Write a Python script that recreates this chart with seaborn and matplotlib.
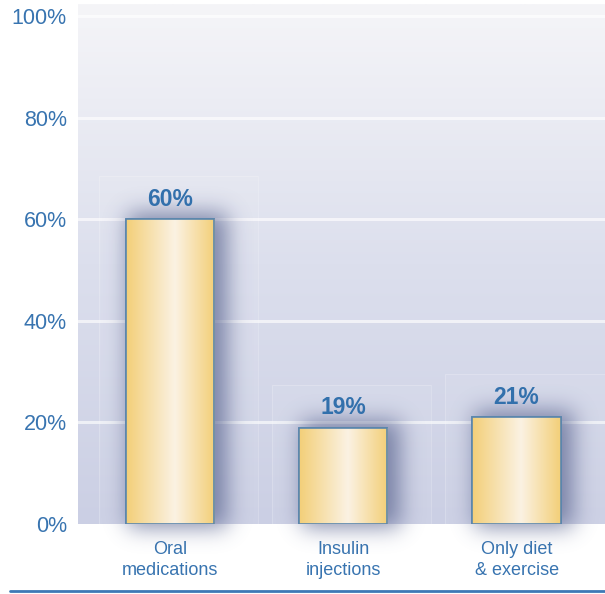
import numpy as np
import pandas as pd
import matplotlib
matplotlib.use("Agg")
import matplotlib.pyplot as plt
from matplotlib.colors import LinearSegmentedColormap, to_rgb
from matplotlib.patches import Rectangle
from matplotlib.lines import Line2D
import seaborn as sns

# Data
categories = ["Oral\nmedications", "Insulin\ninjections", "Only diet\n& exercise"]
shares = [60, 19, 21]
y_ticks = [0, 20, 40, 60, 80, 100]
y_tick_labels = ["0%", "20%", "40%", "60%", "80%", "100%"]

BLUE = "#3874b0"
EDGE = "#5a86ad"

sns.set_theme(style="white")
plt.rcParams["font.family"] = ["Liberation Sans", "DejaVu Sans"]

W, H, DPI = 605, 594, 100
fig = plt.figure(figsize=(W / DPI, H / DPI), dpi=DPI)
fig.patch.set_facecolor("white")
ax = fig.add_axes([78 / W, 70 / H, 527 / W, 520 / H])
ax.set_facecolor("none")

df = pd.DataFrame({"category": categories, "share": shares})
sns.barplot(data=df, x="category", y="share", ax=ax, width=0.51,
            color="#f4d27e", edgecolor=EDGE, linewidth=1.2, zorder=5)

ax.set_xlim(-0.53, 2.51)
ax.set_ylim(0, 102.4)
ax.set_xlabel("")
ax.set_ylabel("")
for s in ax.spines.values():
    s.set_visible(False)

# Plot-area background: vertical gradient from near-white to lavender
bg = LinearSegmentedColormap.from_list("bg", ["#cbcfe4", "#dcdfed", "#f5f5f8"])
grad = np.linspace(0, 1, 256).reshape(-1, 1)
ax.imshow(grad, cmap=bg, aspect="auto", origin="lower", extent=(0, 1, 0, 1),
          transform=ax.transAxes, zorder=0)

# Horizontal grid lines
for t in y_ticks[1:]:
    ax.axhline(t, color="white", alpha=0.65, lw=2.2, zorder=1)

fig.canvas.draw()
to_px = ax.transData
bars = list(ax.patches)

# Soft shadow halo behind each bar, blurred in pixel space
mask = np.zeros((H, W))
for p in bars:
    (x0, y0), (x1, y1) = to_px.transform([(p.get_x(), 0),
                                           (p.get_x() + p.get_width(), p.get_height())])
    dx, dy, grow = 8, 2, 5
    c0, c1 = int(x0 + dx - grow), int(x1 + dx + grow)
    r0, r1 = int(y0 + dy - grow), int(y1 + dy + grow)
    mask[max(r0, 0):min(r1, H), max(c0, 0):min(c1, W)] = 1.0

sigma = 11.0
k = np.arange(-3 * int(sigma), 3 * int(sigma) + 1)
kern = np.exp(-0.5 * (k / sigma) ** 2)
kern /= kern.sum()
blur = np.apply_along_axis(lambda r: np.convolve(r, kern, mode="same"), 1, mask)
blur = np.apply_along_axis(lambda c: np.convolve(c, kern, mode="same"), 0, blur)

shadow = np.zeros((H, W, 4))
shadow[..., :3] = to_rgb("#4f5a88")
shadow[..., 3] = np.clip(blur, 0, 1) * 0.72
ax.imshow(shadow, origin="lower", extent=(0, 1, 0, 1), transform=fig.transFigure,
          aspect="auto", zorder=2, clip_on=False, interpolation="bilinear")

# Faint panels behind each bar
px_per_unit_x = to_px.transform([(1, 0)])[0][0] - to_px.transform([(0, 0)])[0][0]
px_per_unit_y = to_px.transform([(0, 1)])[0][1] - to_px.transform([(0, 0)])[0][1]
for p in bars:
    left = p.get_x() - 27 / px_per_unit_x
    right = p.get_x() + p.get_width() + 44 / px_per_unit_x
    top = p.get_height() + 43 / px_per_unit_y
    ax.add_patch(Rectangle((left, 0), right - left, top, facecolor="white",
                           alpha=0.05, edgecolor="none", zorder=3))
    ax.add_patch(Rectangle((left, 0), right - left, top, facecolor="none",
                           edgecolor="white", alpha=0.2, lw=0.8, zorder=3))

# Gilded horizontal gradient inside each bar
gold = LinearSegmentedColormap.from_list(
    "gold", [(0.0, "#f3cf78"), (0.55, "#fbf2e3"), (1.0, "#f3cf78")])
hgrad = np.linspace(0, 1, 256).reshape(1, -1)
for p in bars:
    im = ax.imshow(hgrad, cmap=gold, aspect="auto",
                   extent=(p.get_x(), p.get_x() + p.get_width(), 0, p.get_height()),
                   zorder=6)
    im.set_clip_path(p)
    ax.add_patch(Rectangle((p.get_x(), 0), p.get_width(), p.get_height(),
                           facecolor="none", edgecolor=EDGE, lw=1.2, zorder=7))

# Value labels above bars
for p, v in zip(bars, shares):
    ax.annotate(f"{v}%", (p.get_x() + p.get_width() / 2, v), xytext=(0, 6),
                textcoords="offset points", ha="center", va="bottom",
                fontsize=16.5, fontweight="bold", color="#3270ac", zorder=8)

ax.set_xlim(-0.53, 2.51)
ax.set_ylim(0, 102.4)
ax.set_yticks(y_ticks)
ax.set_yticklabels(y_tick_labels)
ax.tick_params(axis="y", length=0, pad=8, labelsize=15.5, labelcolor=BLUE)
ax.tick_params(axis="x", length=0, pad=12, labelsize=13, labelcolor=BLUE)
for lab in ax.get_xticklabels():
    lab.set_linespacing(1.3)

# Rule along the bottom of the figure
fig.add_artist(Line2D([10 / W, 1], [3 / H, 3 / H], transform=fig.transFigure,
                      color="#3d79b6", lw=2))

fig.savefig("out.png", dpi=DPI, facecolor="white")
